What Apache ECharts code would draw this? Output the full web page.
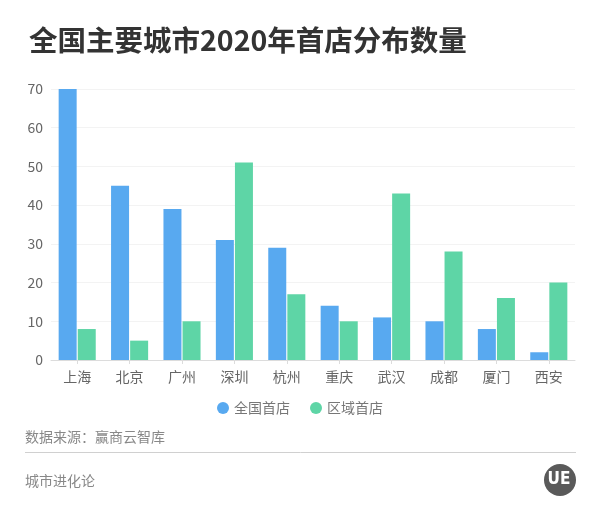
<!DOCTYPE html>
<html><head><meta charset="utf-8">
<script src="https://cdn.jsdelivr.net/npm/echarts@6/dist/echarts.min.js"></script>
<style>html,body{margin:0;padding:0;background:#fff}#c{width:600px;height:510px}</style>
</head><body><div id="c"></div>
<script>
var categories = ['上海','北京','广州','深圳','杭州','重庆','武汉','成都','厦门','西安'];
var nationalFirst = [70,45,39,31,29,14,11,10,8,2];
var regionalFirst = [8,5,10,51,17,10,43,28,16,20];
var yTicks = [0,10,20,30,40,50,60,70];
var seriesNames = ['全国首店','区域首店'];

var font = '"Noto Sans CJK SC", "Noto Sans", sans-serif';
var chart = echarts.init(document.getElementById('c'));
chart.setOption({
  backgroundColor:'#fff',
  animation:false,
  title:{text:'全国主要城市2020年首店分布数量',left:24,top:21,
    textStyle:{fontSize:28.5,fontWeight:'bold',color:'#333',fontFamily:font}},
  grid:{left:51,right:25,top:89,bottom:150,containLabel:false},
  legend:{data:seriesNames,left:'center',top:396,icon:'circle',itemWidth:12,itemHeight:12,itemGap:20,
    textStyle:{fontSize:14,color:'#777',fontFamily:font}},
  xAxis:{type:'category',data:categories,
    axisLine:{lineStyle:{color:'#dcdcdc'}},
    axisTick:{show:true,alignWithLabel:true,length:4,lineStyle:{color:'#dcdcdc'}},
    axisLabel:{fontSize:14,color:'#666',margin:10,fontFamily:font}},
  yAxis:{type:'value',min:yTicks[0],max:yTicks[yTicks.length-1],interval:10,
    axisLine:{show:false},axisTick:{show:false},
    splitLine:{lineStyle:{color:'#f3f3f3'}},
    axisLabel:{fontSize:14,color:'#666',margin:8,fontFamily:font}},
  series:[
    {name:seriesNames[0],type:'bar',data:nationalFirst,barWidth:18,barGap:'6%',itemStyle:{color:'#58a9f0'}},
    {name:seriesNames[1],type:'bar',data:regionalFirst,barWidth:18,itemStyle:{color:'#5ed5a6'}}
  ],
  graphic:[
    {type:'text',x:25,y:437,style:{text:'数据来源：赢商云智库',fontSize:14,fill:'#888',verticalAlign:'middle',fontFamily:font}},
    {type:'line',shape:{x1:25,y1:452.5,x2:576,y2:452.5},style:{stroke:'#d0d0d0',lineWidth:1}},
    {type:'text',x:25,y:481,style:{text:'城市进化论',fontSize:14,fill:'#888',verticalAlign:'middle',fontFamily:font}},
    {type:'circle',shape:{cx:560,cy:480,r:16},style:{fill:'#5a5a5a'}},
    {type:'text',x:559,y:480,style:{text:'UE',fontSize:17,fontWeight:'bold',fill:'#fff',align:'center',verticalAlign:'middle',fontFamily:'DejaVu Sans Condensed'}}
  ]
});
</script></body></html>
